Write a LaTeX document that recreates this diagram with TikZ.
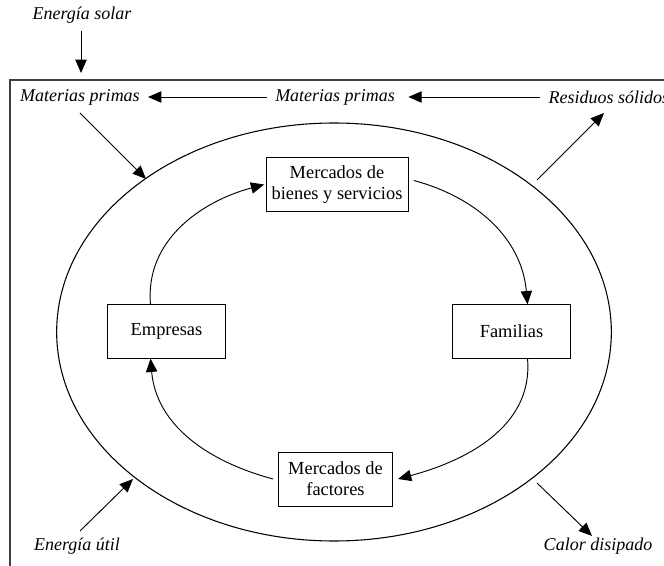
\documentclass[tikz,border=0pt]{standalone}
\usepackage{fontspec}
\setmainfont{Liberation Serif}
\usetikzlibrary{arrows.meta,shapes.geometric}
\begin{document}
\begin{tikzpicture}[x=0.75pt,y=-0.75pt,
  box/.style={draw,line width=0.7pt,inner sep=0pt,align=center,font=\fontsize{13.8}{15.5}\selectfont},
  lab/.style={inner sep=1pt,font=\fontsize{13.5}{15.5}\selectfont\itshape},
  arr/.style={line width=0.7pt,-{Triangle[length=10pt,width=8.5pt]}},
  flow/.style={line width=0.7pt,-{Triangle[length=10pt,width=8.5pt]}}]
\useasboundingbox (0,0) rectangle (664,566);
% frame
\draw[line width=1.1pt,black!75] (664,80) -- (10,80) -- (10,566);
% ellipse
\node (eco) [draw,ellipse,line width=0.8pt,minimum width=416pt,minimum height=313.5pt,inner sep=0pt] at (334,332) {};
% boxes
\node (bie) [box,minimum width=106.5pt,minimum height=41pt] at (337,184.5) {Mercados de\\bienes y servicios};
\node (emp) [box,minimum width=89pt,minimum height=40pt] at (166.5,331.5) {Empresas};
\node (fam) [box,minimum width=89pt,minimum height=40pt] at (511.5,331.5) {Familias};
\node (fac) [box,minimum width=85pt,minimum height=40.5pt] at (335.5,479) {Mercados de\\factores};
% labels
\node (sol) [lab] at (82,15) {Energía solar};
\node (mp1) [lab] at (80,97) {Materias primas};
\node (mp2) [lab] at (335,97) {Materias primas};
\node (res) [lab,anchor=west] at (547,97) {Residuos sólidos};
\node (uti) [lab] at (77,546) {Energía útil};
\node (cal) [lab] at (598,546) {Calor disipado};
% coordinates
\coordinate (solS) at (81,31);
\coordinate (solT) at (81,73);
\coordinate (a1s) at (80,113);
\coordinate (a1e) at (146,179);
\coordinate (a2s) at (537,180);
\coordinate (a2e) at (604,113);
\coordinate (a3s) at (80,531);
\coordinate (a3e) at (133,479);
\coordinate (a4s) at (537,483);
\coordinate (a4e) at (592,536);
% straight arrows
\draw[arr] (solS) -- (solT);
\draw[arr] ([xshift=-5pt]mp2.west) -- ([xshift=5pt]mp1.east);
\draw[arr] ([xshift=-5pt]res.west) -- ([xshift=9pt]mp2.east);
\draw[arr] (a1s) -- (a1e);
\draw[arr] (a2s) -- (a2e);
\draw[arr] (a3s) -- (a3e);
\draw[arr] (a4s) -- (a4e);
% circular flow
\draw[flow] ([xshift=-12pt]emp.north) to[out=95,in=195] ([xshift=-1pt]bie.west);
\draw[flow] ([xshift=4pt,yshift=3pt]bie.east) to[out=-15,in=95] ([xshift=12pt]fam.north);
\draw[flow] ([xshift=12pt]fam.south) to[out=-85,in=15] ([xshift=4pt]fac.east);
\draw[flow] ([xshift=-4pt]fac.west) to[out=165,in=-85] ([xshift=-12pt]emp.south);
\end{tikzpicture}
\end{document}
